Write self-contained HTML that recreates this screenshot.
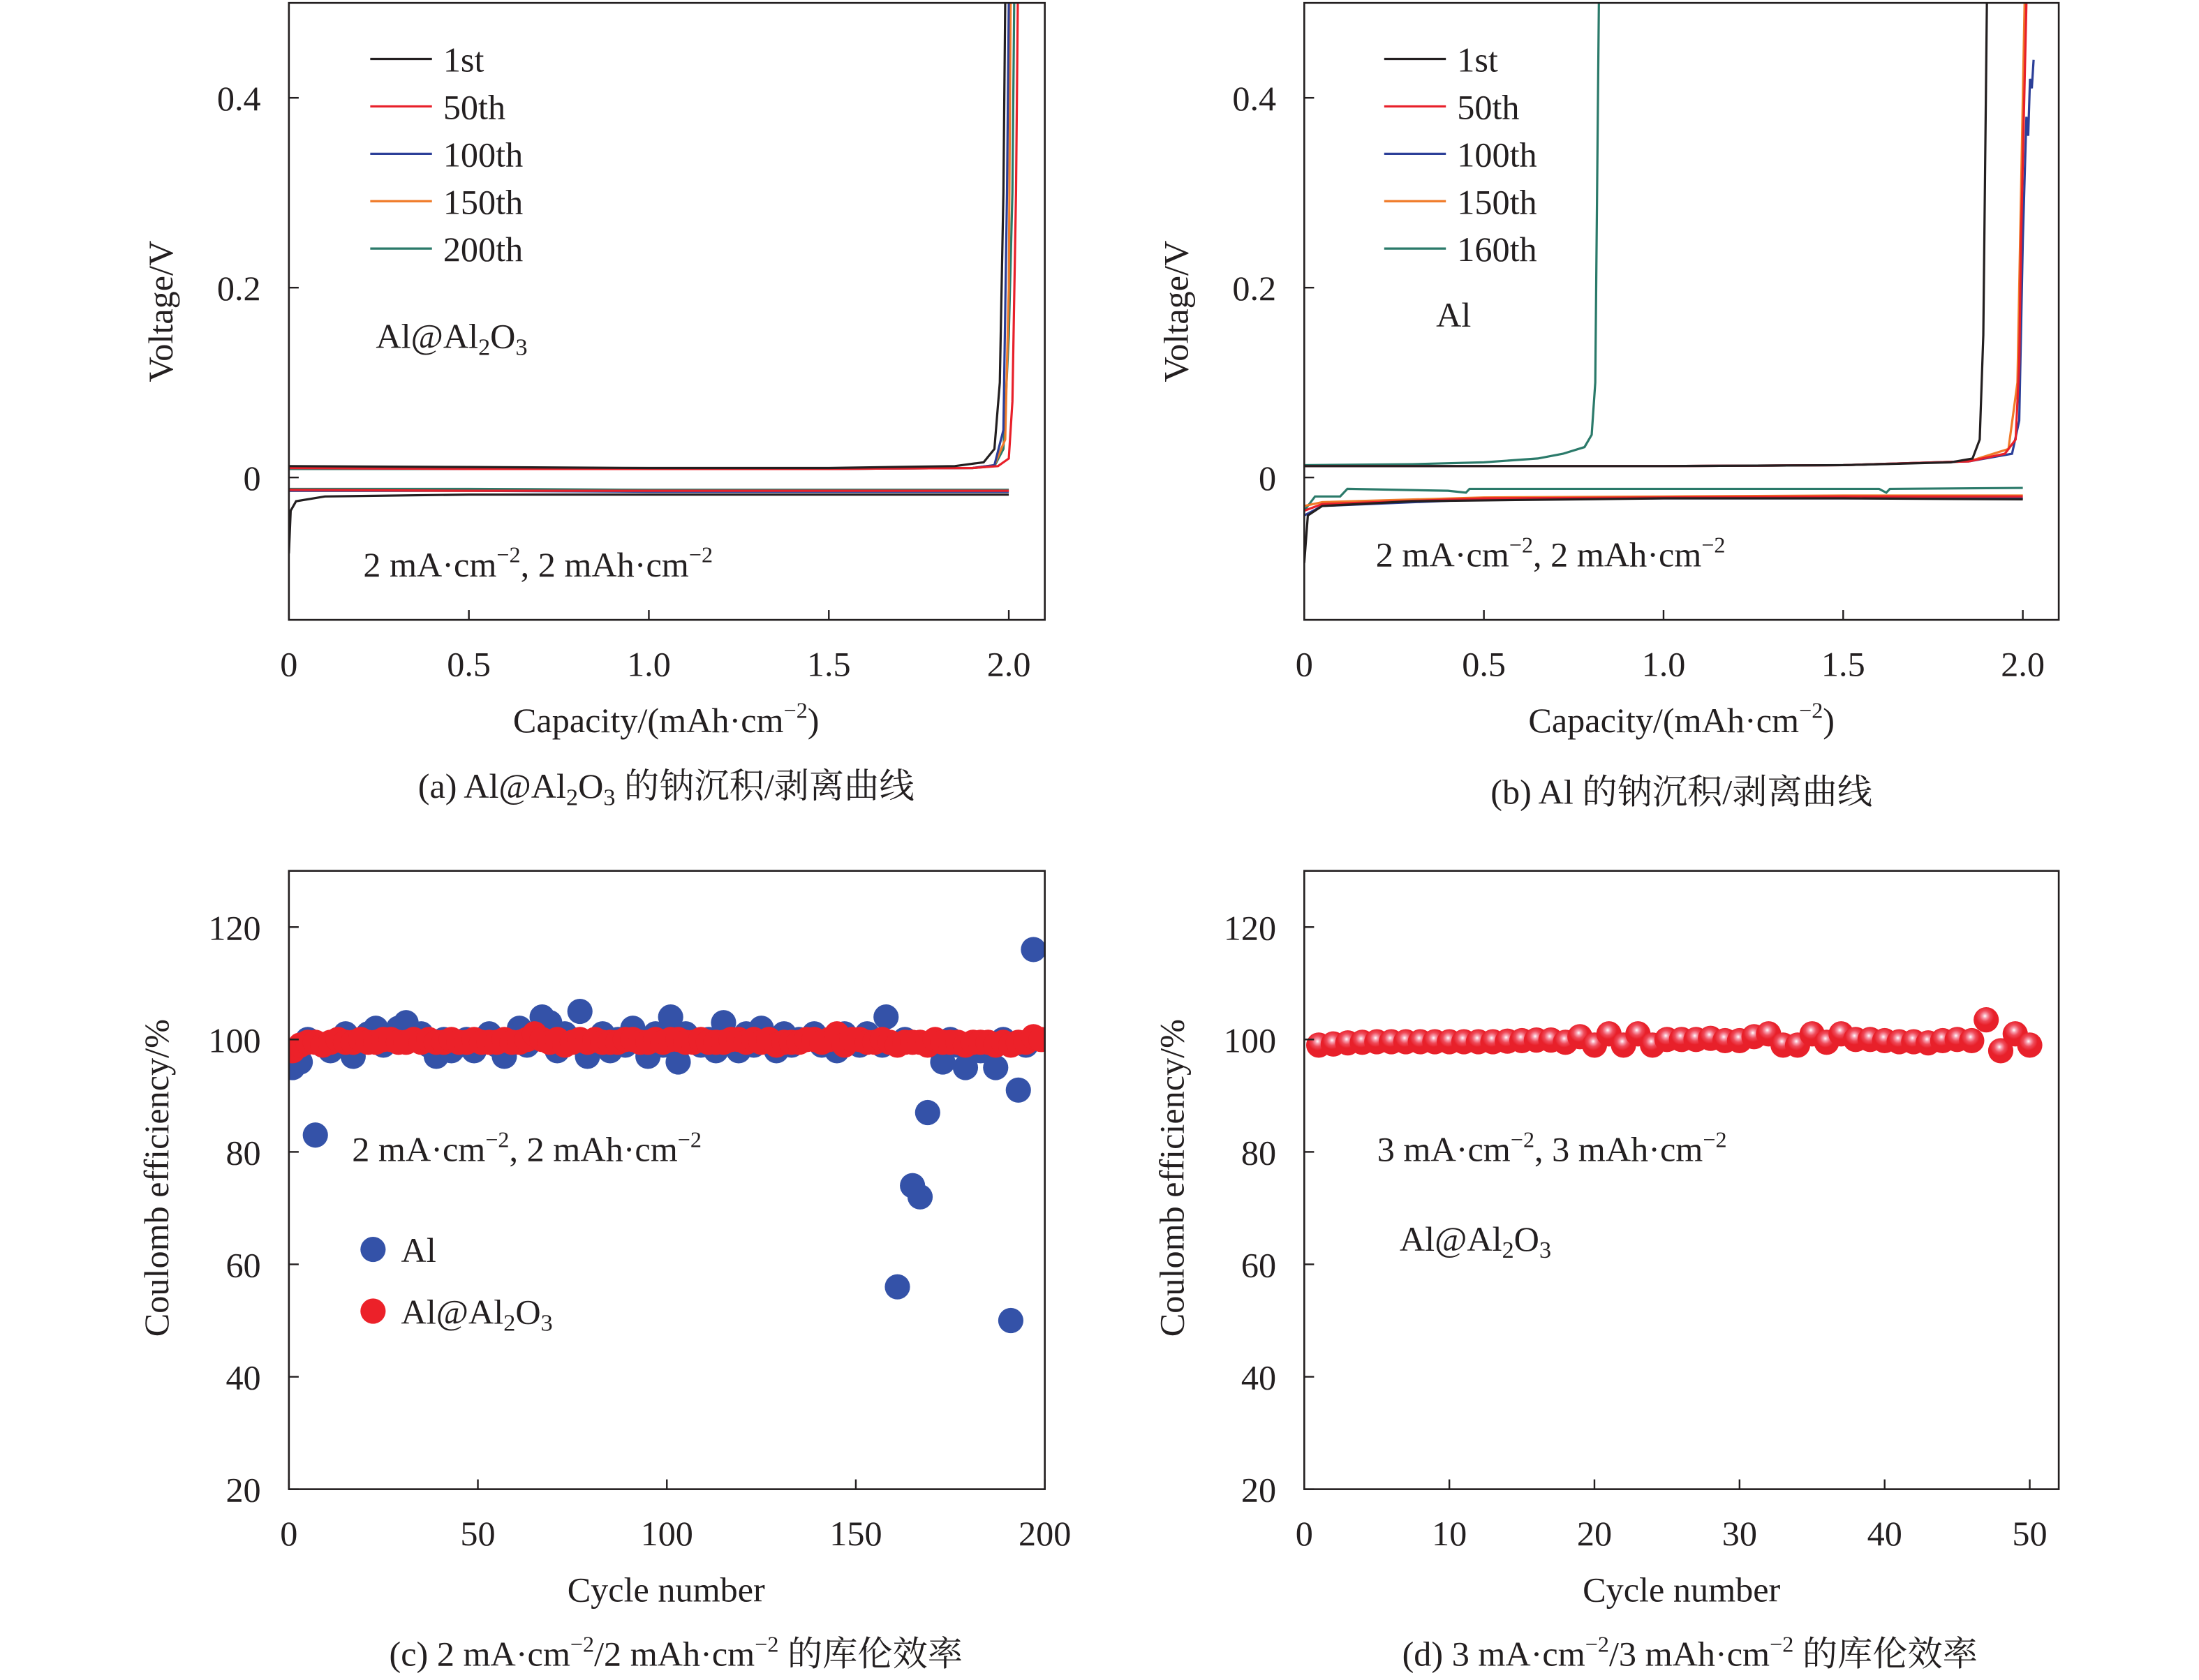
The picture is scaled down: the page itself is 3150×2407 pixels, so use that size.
<!DOCTYPE html>
<html><head><meta charset="utf-8"><style>
html,body{margin:0;padding:0;background:#fff}
svg{display:block}
text{font-family:"Liberation Serif","Noto Serif CJK SC",serif;fill:#231f20}
</style></head><body>
<svg id="fig" width="3150" height="2407" viewBox="0 0 1568 1198" xmlns="http://www.w3.org/2000/svg">
<defs>
<radialGradient id="ball" cx="0.45" cy="0.35" r="0.6">
<stop offset="0" stop-color="#ffffff"/><stop offset="0.15" stop-color="#f7a0b0"/><stop offset="0.35" stop-color="#ef4b5a"/><stop offset="0.6" stop-color="#e8202a"/><stop offset="1" stop-color="#e8202a"/>
</radialGradient>
</defs>
</svg>
<script>
// ===== Panel (a) data: [capacity, voltage]
const aCharge1=[[0,0.012],[0.5,0.011],[1.0,0.01],[1.5,0.01],[1.85,0.012],[1.93,0.016],[1.96,0.03],[1.975,0.1],[1.985,0.3],[1.99,0.5]];
const aCharge50=[[0,0.01],[0.5,0.009],[1.0,0.009],[1.5,0.009],[1.9,0.01],[1.97,0.012],[2.0,0.02],[2.01,0.08],[2.02,0.3],[2.025,0.5]];
const aCharge100=[[0,0.01],[0.5,0.009],[1.0,0.009],[1.5,0.009],[1.9,0.01],[1.96,0.013],[1.985,0.05],[1.995,0.3],[2.0,0.5]];
const aCharge150=[[0,0.01],[0.5,0.009],[1.0,0.009],[1.5,0.009],[1.9,0.01],[1.96,0.013],[1.99,0.04],[2.0,0.2],[2.005,0.5]];
const aCharge200=[[0,0.009],[0.5,0.009],[1.0,0.009],[1.5,0.009],[1.9,0.01],[1.96,0.012],[1.985,0.03],[2.0,0.15],[2.01,0.3],[2.015,0.5]];
const aDis1=[[0,-0.08],[0.005,-0.035],[0.02,-0.025],[0.1,-0.02],[0.5,-0.018],[1.0,-0.018],[1.5,-0.018],[2.0,-0.018]];
const aDis50=[[0,-0.013],[0.5,-0.014],[1.0,-0.014],[1.5,-0.014],[2.0,-0.014]];
const aDis100=[[0,-0.014],[0.5,-0.014],[1.0,-0.015],[1.5,-0.015],[2.0,-0.015]];
const aDis150=[[0,-0.014],[0.5,-0.014],[1.0,-0.014],[1.5,-0.014],[2.0,-0.014]];
const aDis200=[[0,-0.012],[0.5,-0.012],[1.0,-0.013],[1.5,-0.013],[2.0,-0.013]];
// ===== Panel (b) data
const bCharge1=[[0,0.012],[0.5,0.012],[1.0,0.012],[1.5,0.013],[1.8,0.016],[1.86,0.02],[1.88,0.04],[1.89,0.15],[1.9,0.5]];
const bCharge50=[[0,0.012],[0.5,0.012],[1.0,0.012],[1.5,0.013],[1.85,0.017],[1.95,0.025],[1.98,0.04],[1.99,0.12],[1.995,0.25],[2.01,0.5]];
const bCharge100=[[0,0.012],[0.5,0.012],[1.0,0.012],[1.5,0.013],[1.85,0.017],[1.97,0.025],[1.99,0.06],[2.0,0.25],[2.01,0.38],[2.015,0.36],[2.02,0.42],[2.025,0.41],[2.03,0.44]];
const bCharge150=[[0,0.012],[0.5,0.012],[1.0,0.012],[1.5,0.013],[1.85,0.017],[1.96,0.03],[1.985,0.1],[1.995,0.3],[2.005,0.5]];
const bCharge160=[[0,0.013],[0.3,0.014],[0.5,0.016],[0.65,0.02],[0.72,0.025],[0.78,0.032],[0.8,0.045],[0.81,0.1],[0.815,0.3],[0.82,0.5]];
const bDis1=[[0,-0.09],[0.01,-0.04],[0.05,-0.03],[0.3,-0.025],[1.0,-0.022],[1.5,-0.022],[2.0,-0.023]];
const bDis50=[[0,-0.035],[0.05,-0.028],[0.5,-0.022],[1.0,-0.021],[1.5,-0.02],[2.0,-0.02]];
const bDis100=[[0,-0.04],[0.05,-0.03],[0.5,-0.023],[1.0,-0.022],[1.5,-0.022],[2.0,-0.022]];
const bDis150=[[0,-0.03],[0.05,-0.026],[0.5,-0.021],[1.0,-0.02],[1.5,-0.019],[2.0,-0.019]];
const bDis160=[[0,-0.035],[0.03,-0.02],[0.1,-0.02],[0.12,-0.012],[0.4,-0.014],[0.45,-0.016],[0.46,-0.012],[1.0,-0.012],[1.6,-0.012],[1.62,-0.016],[1.63,-0.012],[2.0,-0.011]];
// ===== Panel (c) data
const cCyclesAl=[1,3,5,7,9,11,13,15,17,19,21,23,25,27,29,31,33,35,37,39,41,43,45,47,49,51,53,55,57,59,61,63,65,67,69,71,73,75,77,79,81,83,85,87,89,91,93,95,97,99,101,103,105,107,109,111,113,115,117,119,121,123,125,127,129,131,133,135,137,139,141,143,145,147,149,151,153,155,157,158,161,163,165,167,169,171,173,175,177,179,181,183,185,187,189,191,193,195,197];
const cEffAl=[95,96,100,83,99,98,100,101,97,100,101,102,99,100,102,103,100,101,99,97,100,98,99,100,98,100,101,99,97,100,102,99,100,104,103,98,101,100,105,97,99,101,98,100,99,102,100,97,101,99,104,96,101,100,99,100,98,103,100,98,101,99,102,100,98,101,99,100,100,101,99,100,98,101,100,99,101,100,99,104,56,100,74,72,87,99,96,100,99,95,99,98,99,95,100,50,91,99,116];
const cCyclesAl2=[1,3,5,7,9,11,13,15,17,19,21,23,25,27,29,31,33,35,37,39,41,43,45,47,49,51,53,55,57,59,61,63,65,67,69,71,73,75,77,79,81,83,85,87,89,91,93,95,97,99,101,103,105,107,109,111,113,115,117,119,121,123,125,127,129,131,133,135,137,139,141,143,145,147,149,151,153,155,157,159,161,163,165,167,169,171,173,175,177,179,181,183,185,187,189,191,193,195,197,199];
const cEffAl2=[98,99,99.5,99.5,99,99.5,100,99.5,99.5,100,99.5,99.5,100,100,99.5,99.5,100,99.5,100,99.5,99.5,100,99.5,99.5,100,99.5,99.5,99.5,100,99.5,99.5,100,101,100,99.5,100,99,99.5,100,99.5,100,99.5,99.5,99.5,100,100,99.5,99.5,100,99.5,100,100,99.5,99.5,100,99.5,99.5,99.5,100,100,99.5,100,99.5,100,99,99.5,99.5,99.5,100,100,99.5,100,101,99,100,100,99.5,99.5,100,99.5,99,99.5,99.5,99.5,99,100,99.5,99.5,99.5,99,99.5,99.5,99.5,99,99.5,99,99.5,99.5,100.5,100];
// ===== Panel (d) data
const dCycles=[1,2,3,4,5,6,7,8,9,10,11,12,13,14,15,16,17,18,19,20,21,22,23,24,25,26,27,28,29,30,31,32,33,34,35,36,37,38,39,40,41,42,43,44,45,46,47,48,49,50];
const dEff=[99,99.2,99.4,99.5,99.6,99.6,99.6,99.6,99.6,99.6,99.6,99.6,99.6,99.7,99.8,99.9,99.9,99.5,100.5,99,101,99,101,99,100,100,100,100.2,99.8,99.8,100.5,101,99,99,101,99.5,101,100,100,99.8,99.6,99.6,99.4,99.8,100,99.8,103.5,98,101,99];

const svg=document.getElementById('fig');
const NS='http://www.w3.org/2000/svg';
const FS=25, SUB=17, SUP=16;
function mk(tag,attrs,parent){const e=document.createElementNS(NS,tag);for(const k in attrs)e.setAttribute(k,attrs[k]);(parent||svg).appendChild(e);return e;}
function txt(x,y,s,size,anchor,parent,html){const t=mk('text',{x:x,y:y,'font-size':size,'text-anchor':anchor||'start'},parent);if(html)t.innerHTML=s;else t.textContent=s;return t;}

function panel(name,x0,x1,y0,y1,xmin,xmax,ymin,ymax){
  const g=mk('g',{});
  
  
  const cp='clip-'+name;
  const c=mk('clipPath',{id:cp},g);mk('rect',{x:x0,y:y0,width:x1-x0,height:y1-y0},c);
  const sx=v=>x0+(v-xmin)/(xmax-xmin)*(x1-x0);
  const sy=v=>y1-(v-ymin)/(ymax-ymin)*(y1-y0);
  const plot=mk('g',{'clip-path':'url(#'+cp+')'},g);
  return {g,plot,sx,sy,x0,x1,y0,y1};
}
function frame(p){const r=mk('rect',{x:p.x0,y:p.y0,width:p.x1-p.x0,height:p.y1-p.y0,fill:'none',stroke:'#231f20','stroke-width':1.3},p.g);}
function yticks(p,vals,labels,name){const ax=mk('g',{},p.g);
  vals.forEach((v,i)=>{const y=p.sy(v);mk('line',{x1:p.x0,x2:p.x0+7,y1:y,y2:y,stroke:'#231f20','stroke-width':1.2},ax);txt(p.x0-20,y+9,labels[i],FS,'end',ax);});}
function xticks(p,vals,labels,name){const ax=mk('g',{},p.g);
  vals.forEach((v,i)=>{const x=p.sx(v);mk('line',{x1:x,x2:x,y1:p.y1,y2:p.y1-7,stroke:'#231f20','stroke-width':1.2},ax);txt(x,p.y1+40,labels[i],FS,'middle',ax);});}
function line(p,data,color,name){const pts=data.map(d=>p.sx(d[0]).toFixed(2)+','+p.sy(d[1]).toFixed(2)).join(' ');
  const l=mk('polyline',{points:pts,fill:'none',stroke:color,'stroke-width':1.6},p.plot);}

const colors={k:'#231f20',r:'#e8202a',b:'#2c3f98',o:'#f07a28',t:'#2b7a6a'};
const vTicks=[0,0.2,0.4],vLabels=['0','0.2','0.4'];
const capTicks=[0,0.5,1.0,1.5,2.0],capLabels=['0','0.5','1.0','1.5','2.0'];

const pa=panel('panel-a',206,745,2,442,0,2.1,-0.15,0.5);
[[aDis200,'t'],[aDis150,'o'],[aDis100,'b'],[aDis50,'r'],[aDis1,'k'],[aCharge200,'t'],[aCharge150,'o'],[aCharge100,'b'],[aCharge50,'r'],[aCharge1,'k']].forEach((s,i)=>line(pa,s[0],colors[s[1]],'curve-a-'+i));
frame(pa);yticks(pa,vTicks,vLabels,'y-axis-a');xticks(pa,capTicks,capLabels,'x-axis-a');
const pb=panel('panel-b',930,1468,2,442,0,2.1,-0.15,0.5);
[[bDis160,'t'],[bDis150,'o'],[bDis100,'b'],[bDis50,'r'],[bDis1,'k'],[bCharge160,'t'],[bCharge150,'o'],[bCharge100,'b'],[bCharge50,'r'],[bCharge1,'k']].forEach((s,i)=>line(pb,s[0],colors[s[1]],'curve-b-'+i));
frame(pb);yticks(pb,vTicks,vLabels,'y-axis-b');xticks(pb,capTicks,capLabels,'x-axis-b');

function legend(x,y,labels,name){const g=mk('g',{});
  const cs=['k','r','b','o','t'];labels.forEach((l,i)=>{const yy=y+i*33.8;mk('line',{x1:x,x2:x+44,y1:yy,y2:yy,stroke:colors[cs[i]],'stroke-width':1.6},g);txt(x+52,yy+9,l,FS,'start',g);});}
legend(264,42,['1st','50th','100th','150th','200th'],'legend-a');
legend(987,42,['1st','50th','100th','150th','160th'],'legend-b');

const pc=panel('panel-c',206,745,621,1062,0,200,20,130);
cCyclesAl.forEach((c,i)=>{const e=mk('circle',{cx:pc.sx(c),cy:pc.sy(cEffAl[i]),r:9,fill:'#3452a8'},pc.plot);});
cCyclesAl2.forEach((c,i)=>{const e=mk('circle',{cx:pc.sx(c),cy:pc.sy(cEffAl2[i]),r:9,fill:'#ec2129'},pc.plot);});
frame(pc);
const effT=[20,40,60,80,100,120],effL=['20','40','60','80','100','120'];
yticks(pc,effT,effL,'y-axis-c');xticks(pc,[0,50,100,150,200],['0','50','100','150','200'],'x-axis-c');
const pd=panel('panel-d',930,1468,621,1062,0,52,20,130);
dCycles.forEach((c,i)=>{const e=mk('circle',{cx:pd.sx(c),cy:pd.sy(dEff[i]),r:9,fill:'url(#ball)'},pd.plot);});
frame(pd);
yticks(pd,effT,effL,'y-axis-d');xticks(pd,[0,10,20,30,40,50],['0','10','20','30','40','50'],'x-axis-d');

const alal='Al@Al<tspan font-size="'+SUB+'" dy="5">2</tspan><tspan dy="-5">O</tspan><tspan font-size="'+SUB+'" dy="5">3</tspan>';
const lc=mk('g',{});
mk('circle',{cx:266,cy:891,r:9,fill:'#3452a8'},lc);txt(286,900,'Al',FS,'start',lc);
mk('circle',{cx:266,cy:935,r:9,fill:'#ec2129'},lc);txt(286,944,alal,FS,'start',lc,true);

function sup(s){return '<tspan font-size="'+SUP+'" dy="-10">'+s+'</tspan>';}
const cond2='2 mA·cm'+sup('−2')+'<tspan dy="10">, 2 mAh·cm</tspan>'+sup('−2');
const cond3='3 mA·cm'+sup('−2')+'<tspan dy="10">, 3 mAh·cm</tspan>'+sup('−2');
function ann(x,y,s,name,html){const t=txt(x,y,s,FS,'start',null,html);}
ann(259,411,cond2,'condition-a',true);
ann(268,248,alal,'label-a',true);
ann(981,404,cond2,'condition-b',true);
ann(1024,233,'Al','label-b');
ann(251,828,cond2,'condition-c',true);
ann(982,828,cond3,'condition-d',true);
ann(998,892,alal,'label-d',true);

function ytitle(x,y,s,name){const t=mk('text',{x:0,y:0,'font-size':FS,'text-anchor':'middle',transform:'translate('+x+','+y+') rotate(-90)'});t.textContent=s;}
ytitle(123,222,'Voltage/V','y-title-a');ytitle(847,222,'Voltage/V','y-title-b');
ytitle(120,840,'Coulomb efficiency/%','y-title-c');ytitle(844,840,'Coulomb efficiency/%','y-title-d');
function xt(x,y,s,name,html){const t=txt(x,y,s,FS,'middle',null,html);}
const capT='Capacity/(mAh·cm'+sup('−2')+'<tspan dy="10">)</tspan>';
xt(475,522,capT,'x-title-a',true);xt(1199,522,capT,'x-title-b',true);
xt(475,1142,'Cycle number','x-title-c');xt(1199,1142,'Cycle number','x-title-d');
xt(475,569,'(a) '+alal+'<tspan dy="-5"> 的钠沉积/剥离曲线</tspan>','caption-a',true);
xt(1199,573,'(b) Al 的钠沉积/剥离曲线','caption-b');
xt(482,1188,'(c) 2 mA·cm'+sup('−2')+'<tspan dy="10">/2 mAh·cm</tspan>'+sup('−2')+'<tspan dy="10"> 的库伦效率</tspan>','caption-c',true);
xt(1205,1188,'(d) 3 mA·cm'+sup('−2')+'<tspan dy="10">/3 mAh·cm</tspan>'+sup('−2')+'<tspan dy="10"> 的库伦效率</tspan>','caption-d',true);
</script>
</body></html>
